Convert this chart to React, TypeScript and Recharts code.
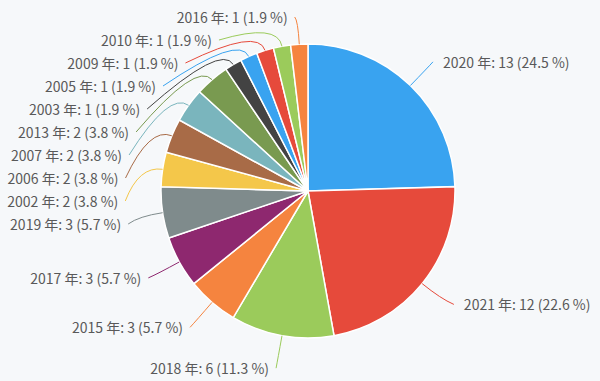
import React from 'react';
import { PieChart, Pie, Cell } from 'recharts';

const years = ['2020', '2021', '2018', '2015', '2017', '2019', '2002', '2006', '2007', '2013', '2003', '2005', '2009', '2010', '2016'];
const counts = [13, 12, 6, 3, 3, 3, 2, 2, 2, 2, 1, 1, 1, 1, 1];
const palette = ['#39a3f0', '#e64a3b', '#9bcb5b', '#f5843f', '#8e286f', '#7f8b8c', '#f4c74a', '#a86b47', '#7ab5bd', '#799a50', '#434343'];

const CX = 308;
const CY = 191;
const RADIUS = 147;
const RAD = Math.PI / 180;
const LABEL_GAP = 23;
const TOP_Y = 17;
const BOTTOM_Y = 369;

const total = counts.reduce((a, b) => a + b, 0);
const data = years.map((y, i) => ({ name: y, value: counts[i] }));

// spread labels on each side so they don't overlap (pushed down from the top edge)
const computeLabelY = () => {
  let cum = 0;
  const items = counts.map((v, i) => {
    const mid = 90 - ((cum + v / 2) / total) * 360;
    cum += v;
    return {
      index: i,
      side: Math.cos(mid * RAD) >= 0 ? 1 : -1,
      y: CY - 180 * Math.sin(mid * RAD),
    };
  });
  const result: number[] = new Array(counts.length).fill(0);
  [1, -1].forEach(side => {
    const list = items.filter(it => it.side === side).sort((a, b) => a.y - b.y);
    let prev = TOP_Y - LABEL_GAP;
    list.forEach(it => {
      it.y = Math.max(it.y, prev + LABEL_GAP, TOP_Y);
      prev = it.y;
    });
    let next = BOTTOM_Y + LABEL_GAP;
    for (let k = list.length - 1; k >= 0; k--) {
      list[k].y = Math.min(list[k].y, next - LABEL_GAP, BOTTOM_Y);
      next = list[k].y;
    }
    list.forEach(it => { result[it.index] = it.y; });
  });
  return result;
};

const labelYs = computeLabelY();

const renderLabel = (props: any) => {
  const { cx, cy, midAngle, outerRadius, index, value } = props;
  const color = palette[index % palette.length];
  const sin = Math.sin(-midAngle * RAD);
  const cos = Math.cos(-midAngle * RAD);
  const x0 = cx + outerRadius * cos;
  const y0 = cy + outerRadius * sin;
  const xc = cx + (outerRadius + 24) * cos;
  const yc = cy + (outerRadius + 24) * sin;
  const side = cos >= 0 ? 1 : -1;
  const ly = labelYs[index];
  const dy = ly - cy;
  const b = dy < 0 ? 175 : 181;
  const a = side > 0 ? 200 : 190;
  const dx = a * Math.sqrt(Math.max(0, 1 - (dy * dy) / (b * b)));
  const tx = cx + side * dx;
  const ex = tx - side * (side > 0 ? 10 : 7);
  const pct = ((value / total) * 100).toFixed(1);
  return (
    <g>
      <path d={`M${x0},${y0} Q${xc},${yc} ${ex},${ly}`} stroke={color} strokeWidth={1} fill="none" />
      <text
        x={tx}
        y={ly}
        textAnchor={side > 0 ? 'start' : 'end'}
        dominantBaseline="central"
        fill="#595959"
        fontSize={14}
        fontFamily="'Noto Sans CJK JP', 'Noto Sans', sans-serif"
      >
        {`${years[index]} 年: ${value} (${pct} %)`}
      </text>
    </g>
  );
};

export default function App() {
  return (
    <div style={{ position: 'fixed', left: 0, top: 0, width: 600, height: 381, background: '#f6f8fa' }}>
      <PieChart width={600} height={381} margin={{ top: 0, right: 0, bottom: 0, left: 0 }}>
        <Pie
          data={data}
          dataKey="value"
          nameKey="name"
          cx={CX}
          cy={CY}
          outerRadius={RADIUS}
          startAngle={90}
          endAngle={-270}
          stroke="#ffffff"
          strokeWidth={1.5}
          label={renderLabel}
          labelLine={false}
          isAnimationActive={false}
        >
          {data.map((d, i) => (
            <Cell key={d.name} fill={palette[i % palette.length]} />
          ))}
        </Pie>
      </PieChart>
    </div>
  );
}
